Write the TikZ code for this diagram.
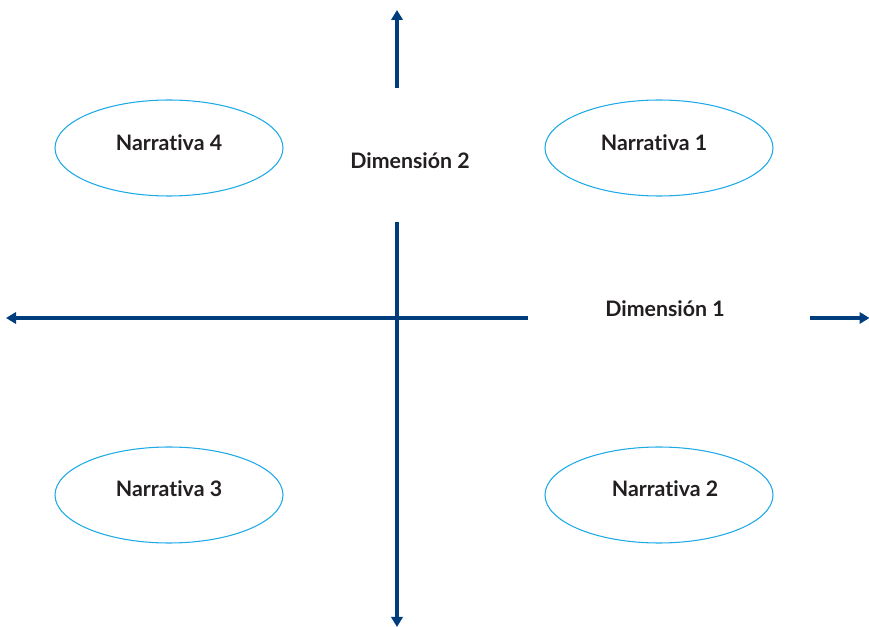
\documentclass[tikz,border=0pt]{standalone}
\usepackage{fontspec}
\setmainfont[Ligatures={NoCommon,NoRare}]{Lato}
\usetikzlibrary{arrows.meta,shapes.geometric}
\definecolor{axisblue}{RGB}{0,61,125}
\definecolor{ellcyan}{RGB}{30,170,230}
\definecolor{txt}{RGB}{35,31,32}
\tikzset{
  axis/.style={draw=axisblue,line width=2.4pt,-{Triangle[width=8.5pt,length=7.5pt]}},
  narr/.style={ellipse,draw=ellcyan,line width=0.8pt,minimum width=171pt,minimum height=72pt,inner sep=0pt},
  lbl/.style={text=txt,font=\bfseries\fontsize{16}{18}\selectfont,inner sep=0pt}
}
\begin{document}
\begin{tikzpicture}[x=0.75pt,y=-0.75pt]
\useasboundingbox (0,0) rectangle (869,627);
% axes
\coordinate (vtopS) at (397,88);
\coordinate (vtopE) at (397,10);
\coordinate (vbotS) at (397,222);
\coordinate (vbotE) at (397,627);
\coordinate (hleftS) at (528,318);
\coordinate (hleftE) at (6,318);
\coordinate (hrightS) at (810,318);
\coordinate (hrightE) at (869.5,318);
\draw[axis] (vtopS) -- (vtopE);
\draw[axis] (vbotS) -- (vbotE);
\draw[axis] (hleftS) -- (hleftE);
\draw[axis] (hrightS) -- (hrightE);
% dimension labels
\node[lbl] (d2) at (410,161) {Dimensión 2};
\node[lbl] (d1) at (665,309) {Dimensión 1};
% ellipses
\node[narr] (e4) at (169,148) {};
\node[narr] (e1) at (659,148) {};
\node[narr] (e3) at (169,495) {};
\node[narr] (e2) at (659,495) {};
\node[lbl] (n4) at (169,143) {Narrativa 4};
\node[lbl] (n1) at (654,143) {Narrativa 1};
\node[lbl] (n3) at (169,489) {Narrativa 3};
\node[lbl] (n2) at (665,489) {Narrativa 2};
\end{tikzpicture}
\end{document}
